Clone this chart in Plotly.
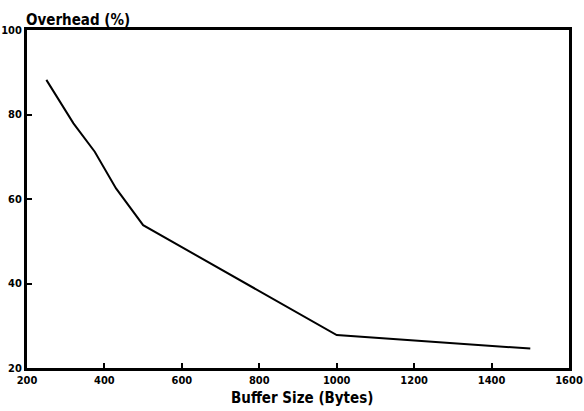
import plotly.graph_objects as go

buffer_size = [250, 320, 375, 430, 500, 1000, 1500]
overhead = [88.2, 77.9, 71.2, 62.5, 53.8, 27.8, 24.6]

x_ticks = [200, 400, 600, 800, 1000, 1200, 1400, 1600]
y_ticks = [20, 40, 60, 80, 100]

fig = go.Figure()
fig.add_trace(go.Scatter(x=buffer_size, y=overhead, mode="lines",
                         line=dict(color="black", width=2), showlegend=False))

tickfont = dict(family="DejaVu Sans Condensed", size=11, color="black", weight="bold")
titlefont = dict(family="DejaVu Sans Condensed", size=15, color="black", weight="bold")
axis_common = dict(showline=True, linecolor="black", linewidth=3, mirror=True,
                   ticks="inside", ticklen=5, tickwidth=2, tickcolor="black",
                   showgrid=False, zeroline=False, tickfont=tickfont, automargin=False)

fig.update_xaxes(range=[200, 1600], tickvals=x_ticks, ticklabelstandoff=0, **axis_common)
fig.update_yaxes(range=[20, 100], tickvals=y_ticks, ticklabelstandoff=0, **axis_common)

fig.add_annotation(text="Overhead (%)", xref="paper", yref="paper", x=0, y=1,
                   xanchor="left", yanchor="bottom", showarrow=False, yshift=-1, xshift=-3,
                   font=titlefont)
fig.add_annotation(text="Buffer Size (Bytes)", xref="paper", yref="paper", x=0.5, y=0,
                   xanchor="center", yanchor="top", showarrow=False, yshift=-19, xshift=4,
                   font=titlefont)

fig.update_layout(width=584, height=411, margin=dict(l=27, r=15, t=30, b=43),
                  paper_bgcolor="white", plot_bgcolor="white")

fig.write_html("out.html", config={"displayModeBar": False},
               post_script="document.body.style.margin='0';")
